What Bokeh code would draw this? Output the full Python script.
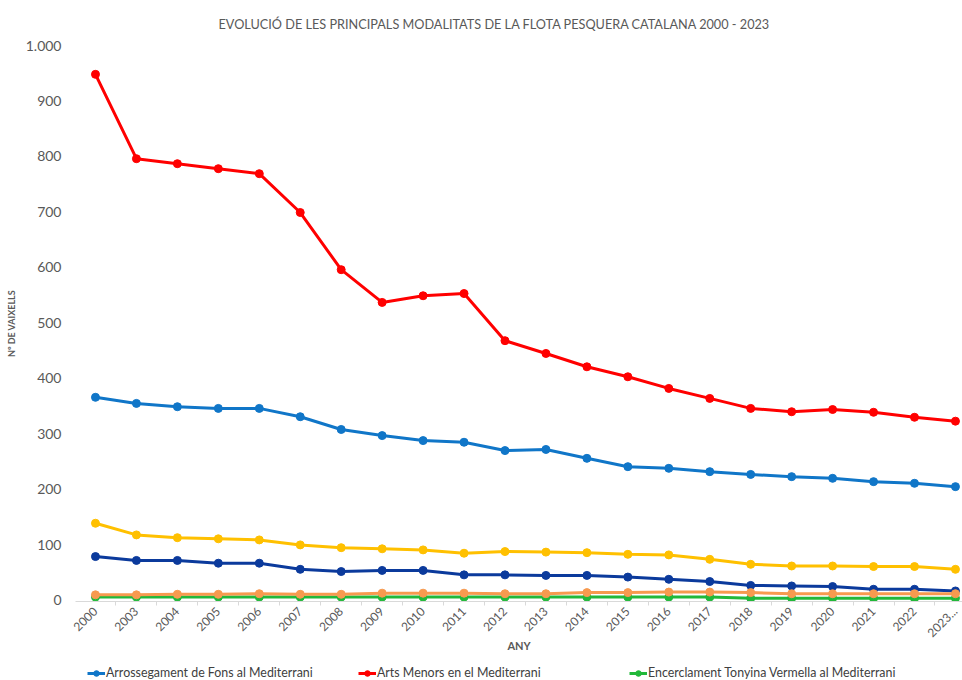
import math
from bokeh.plotting import figure
from bokeh.layouts import column
from bokeh.models import Range1d, FixedTicker, Legend, LegendItem, Label
from bokeh.embed import file_html
from bokeh.resources import INLINE

# ---- data ----
years = ["2000", "2003", "2004", "2005", "2006", "2007", "2008", "2009", "2010",
         "2011", "2012", "2013", "2014", "2015", "2016", "2017", "2018", "2019",
         "2020", "2021", "2022", "2023..."]

arrossegament = [366, 355, 349, 346, 346, 331, 308, 297, 288, 285, 270, 272,
                 256, 241, 238, 232, 227, 223, 220, 214, 211, 205]
arts_menors = [948, 796, 787, 778, 769, 699, 596, 537, 549, 553, 468, 445,
               421, 403, 382, 364, 346, 340, 344, 339, 330, 323]
tonyina = [6, 6, 6, 6, 6, 6, 6, 6, 6, 6, 6, 6, 6, 6, 6, 6, 4, 4, 4, 4, 4, 4]
encerclament = [139, 118, 113, 111, 109, 100, 95, 93, 91, 85, 88, 87,
                86, 83, 82, 74, 65, 62, 62, 61, 61, 56]
palangre = [79, 72, 72, 67, 67, 56, 52, 54, 54, 46, 46, 45,
            45, 42, 38, 34, 27, 26, 25, 20, 20, 17]
altres = [10, 10, 11, 11, 12, 11, 11, 13, 13, 13, 12, 12,
          14, 14, 15, 15, 14, 12, 12, 12, 12, 12]

legend_names = ["Arrossegament de Fons al Mediterrani",
                "Arts Menors en el Mediterrani",
                "Encerclament Tonyina Vermella al Mediterrani"]

title_text = "EVOLUCIÓ DE LES PRINCIPALS MODALITATS DE LA FLOTA PESQUERA CATALANA 2000 - 2023"

y_ticks = [0, 100, 200, 300, 400, 500, 600, 700, 800, 900, 1000]
y_labels = ["0", "100", "200", "300", "400", "500", "600", "700", "800", "900", "1.000"]

x = list(range(len(years)))

FONT = "Lato"
GRAY = "#595959"

series = [
    (arrossegament, "#1076C8"),
    (arts_menors, "#FF0000"),
    (tonyina, "#22B83A"),
    (encerclament, "#FFC000"),
    (palangre, "#0B3A9C"),
    (altres, "#F79A4F"),
]


def strip(height):
    f = figure(width=962, height=height, output_backend="svg", toolbar_location=None,
               x_range=Range1d(0, 1), y_range=Range1d(0, 1),
               min_border_left=0, min_border_right=0, min_border_top=0, min_border_bottom=0)
    f.outline_line_color = None
    f.xaxis.visible = False
    f.yaxis.visible = False
    f.xgrid.grid_line_color = None
    f.ygrid.grid_line_color = None
    return f


# ---- title strip ----
top = strip(32)
top.add_layout(Label(x=143, y=9, x_units="screen", y_units="screen", text=title_text,
                     text_baseline="middle", text_align="left", text_font=FONT,
                     text_font_size="12.7px", text_color=GRAY))

# ---- main chart ----
main = figure(width=962, height=624, output_backend="svg", toolbar_location=None,
              x_range=Range1d(-0.488, 21.172), y_range=Range1d(-2, 1000),
              min_border_left=75, min_border_right=0, min_border_top=13,
              min_border_bottom=55)

main.outline_line_color = None
main.xgrid.grid_line_color = None
main.ygrid.grid_line_color = None

# y axis
main.yaxis.ticker = FixedTicker(ticks=y_ticks)
main.yaxis.major_label_overrides = {t: l for t, l in zip(y_ticks, y_labels)}
main.yaxis.axis_line_color = None
main.yaxis.major_tick_line_color = None
main.yaxis.minor_tick_line_color = None
main.yaxis.major_tick_out = 0
main.yaxis.major_tick_in = 0
main.yaxis.minor_tick_out = 0
main.yaxis.minor_tick_in = 0
main.yaxis.major_label_text_font = FONT
main.yaxis.major_label_text_font_size = "14px"
main.yaxis.major_label_text_color = GRAY
main.yaxis.major_label_standoff = 14
main.yaxis.axis_label = "Nº DE VAIXELLS"
main.yaxis.axis_label_text_font = FONT
main.yaxis.axis_label_text_font_size = "9px"
main.yaxis.axis_label_text_font_style = "bold"
main.yaxis.axis_label_text_color = GRAY
main.yaxis.axis_label_standoff = 6

# x axis
main.xaxis.ticker = FixedTicker(ticks=x, minor_ticks=[i - 0.5 for i in range(len(years) + 1)])
main.xaxis.major_label_overrides = {i: y for i, y in zip(x, years)}
main.xaxis.major_tick_line_color = None
main.xaxis.major_tick_out = 0
main.xaxis.major_tick_in = 0
main.xaxis.minor_tick_in = 0
main.xaxis.minor_tick_out = 4
main.xaxis.minor_tick_line_color = "#d9d9d9"
main.xaxis.axis_line_color = "#d9d9d9"
main.xaxis.major_label_orientation = math.pi / 4
main.xaxis.major_label_text_font = FONT
main.xaxis.major_label_text_font_size = "12px"
main.xaxis.major_label_text_color = GRAY
main.xaxis.major_label_standoff = 4
main.xaxis.axis_label = "ANY"
main.xaxis.axis_label_text_font = FONT
main.xaxis.axis_label_text_font_size = "11px"
main.xaxis.axis_label_text_font_style = "bold"
main.xaxis.axis_label_text_color = GRAY
main.xaxis.axis_label_standoff = -5

for vals, col in series:
    main.line(x, vals, line_color=col, line_width=3)
    main.scatter(x, vals, marker="circle", size=8, fill_color=col, line_color=col)

# ---- legend strip (separate figure so the legend is not clipped) ----
leg = strip(24)
items = []
for i in range(3):
    vals, col = series[i]
    ln = leg.line(x, vals, line_color=col, line_width=3)
    sc = leg.scatter(x, vals, marker="circle", size=8, fill_color=col, line_color=col)
    items.append(LegendItem(label=legend_names[i], renderers=[ln, sc]))

legend = Legend(
    items=items, orientation="horizontal", location=(12, 0),
    label_width=252, label_height=14, spacing=0,
    glyph_width=18, glyph_height=14, label_standoff=1, padding=0, margin=0,
    border_line_color=None, background_fill_alpha=0,
    label_text_font=FONT, label_text_font_size="12.4px", label_text_color="#404040",
)
leg.add_layout(legend)

p = column(top, main, leg, spacing=0)

open("out.html", "w").write(file_html(p, INLINE))
